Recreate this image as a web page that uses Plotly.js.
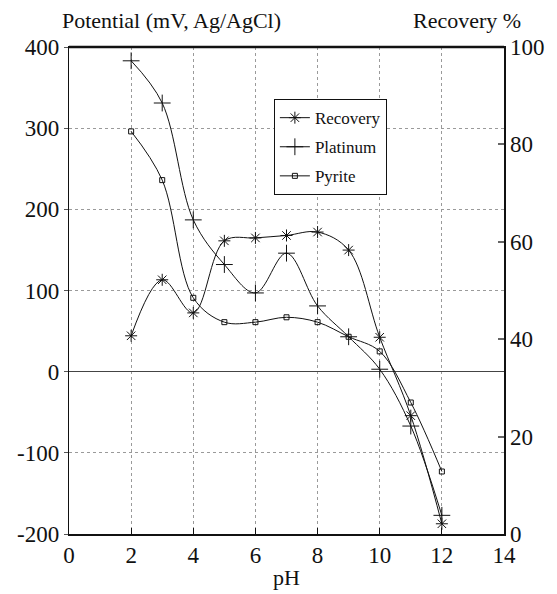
<!DOCTYPE html>
<html>
<head>
<meta charset="utf-8">
<script src="https://cdn.plot.ly/plotly-3.0.1.min.js"></script>
<style>
  html, body { margin: 0; padding: 0; background: #fff; }
  #chart { width: 557px; height: 594px; }
</style>
</head>
<body>
<div id="chart"></div>
<script>
// pH values at which the measurements were taken
const pH = [2, 3, 4, 5, 6, 7, 8, 9, 10, 11, 12];

// Flotation recovery (%), right-hand axis
const recovery = [40.7, 52.2, 45.4, 60.2, 60.8, 61.3, 62.0, 58.3, 40.4, 24.3, 2.1];

// Electrode potentials (mV vs Ag/AgCl), left-hand axis
const platinum = [383, 331, 187, 132, 97, 146, 81, 43, 3, -67, -177];
const pyrite = [296, 236, 91, 61, 61, 67, 61, 43, 25, -38, -123];

const xTicks = [0, 2, 4, 6, 8, 10, 12, 14];
const leftTicks = [-200, -100, 0, 100, 200, 300, 400];
const rightTicks = [0, 20, 40, 60, 80, 100];

const serif = "Liberation Serif, serif";
const ink = "#111";

const lineStyle = { color: ink, width: 1, shape: "spline", smoothing: 1 };

const traces = [
  {
    x: pH, y: recovery, name: "Recovery", yaxis: "y2",
    mode: "lines+markers", line: lineStyle, legendgroup: "a",
    marker: { symbol: "asterisk-open", size: 10, color: ink, line: { color: ink, width: 1 } }
  },
  {
    x: pH, y: platinum, name: "Platinum",
    mode: "lines+markers", line: lineStyle, legendgroup: "b",
    marker: { symbol: "cross-thin-open", size: 12, color: ink, line: { color: ink, width: 1 } }
  },
  {
    x: pH, y: pyrite, name: "Pyrite",
    mode: "lines+markers", line: lineStyle, legendgroup: "c",
    marker: { symbol: "square-open", size: 5, color: ink, line: { color: ink, width: 1 } }
  }
];

const tickFont = { family: serif, size: 23, color: ink };

const layout = {
  width: 557, height: 594,
  margin: { l: 69, r: 53, t: 47, b: 60 },
  paper_bgcolor: "#fff", plot_bgcolor: "#fff",
  font: { family: serif, color: ink },
  showlegend: true,
  legend: {
    x: 0.471, y: 0.893, xanchor: "left", yanchor: "top",
    bgcolor: "#fff", bordercolor: ink, borderwidth: 1,
    font: { family: serif, size: 17, color: ink },
    traceorder: "grouped", tracegroupgap: 4,
    itemwidth: 30
  },
  xaxis: {
    range: [0, 14], tickvals: xTicks, ticktext: xTicks.map(String),
    showgrid: true, gridcolor: "#9a9a9a", griddash: "dot", gridwidth: 1,
    showline: true, linecolor: ink, linewidth: 1.5, mirror: true, zeroline: false,
    ticks: "inside", ticklen: 6, tickcolor: ink, tickwidth: 1,
    tickfont: tickFont,
    title: { text: "pH", font: { family: serif, size: 22, color: ink }, standoff: 2 }
  },
  yaxis: {
    range: [-200, 400], tickvals: leftTicks, ticktext: leftTicks.map(String),
    showgrid: true, gridcolor: "#9a9a9a", griddash: "dot", gridwidth: 1,
    showline: true, linecolor: ink, linewidth: 1.2,
    zeroline: true, zerolinecolor: "#444", zerolinewidth: 1,
    ticks: "outside", ticklen: 4, tickcolor: "#555", tickwidth: 1,
    tickfont: tickFont
  },
  yaxis2: {
    overlaying: "y", side: "right", range: [0, 100],
    tickvals: rightTicks, ticktext: rightTicks.map(String),
    showgrid: false, zeroline: false,
    showline: true, linecolor: ink, linewidth: 1.5,
    ticks: "inside", ticklen: 6, tickcolor: "#666", tickwidth: 2,
    tickfont: tickFont
  },
  shapes: [
    { type: "line", xref: "paper", yref: "paper", x0: 0, x1: 1, y0: 1, y1: 1,
      line: { color: ink, width: 2.5 } }
  ],
  annotations: [
    { text: "Potential (mV, Ag/AgCl)", xref: "paper", yref: "paper",
      x: 0.236, y: 1, yshift: 27, xanchor: "center", yanchor: "middle", showarrow: false,
      font: { family: serif, size: 22, color: ink } },
    { text: "Recovery %", xref: "paper", yref: "paper",
      x: 0.916, y: 1, yshift: 27, xanchor: "center", yanchor: "middle", showarrow: false,
      font: { family: serif, size: 22, color: ink } }
  ]
};

Plotly.newPlot("chart", traces, layout, { staticPlot: true, displayModeBar: false });
</script>
</body>
</html>
